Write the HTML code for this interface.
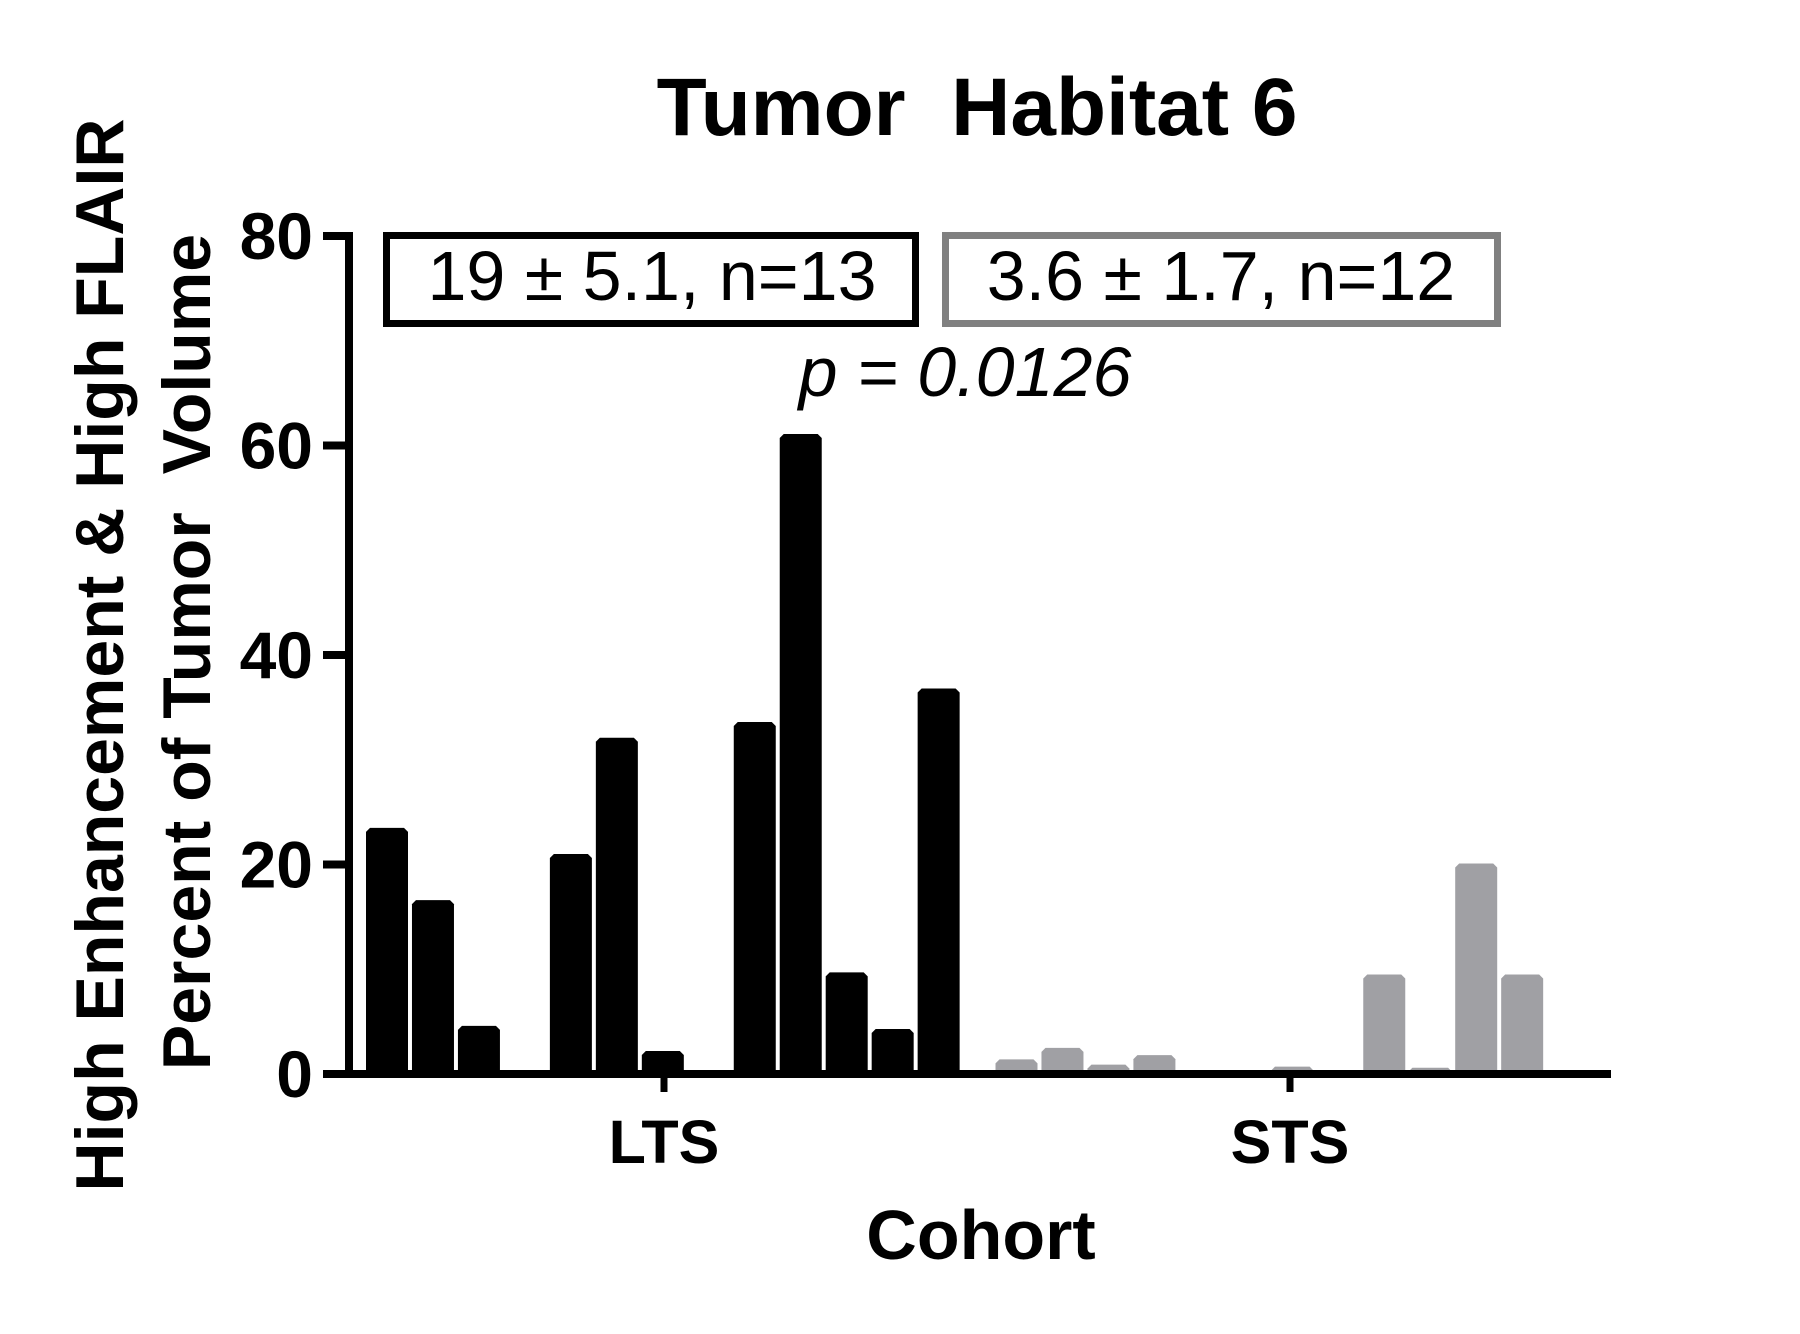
<!DOCTYPE html>
<html><head><meta charset="utf-8"><style>
html,body{margin:0;padding:0;background:#fff;}
svg{display:block;}
text{font-family:"Liberation Sans",Arial,sans-serif;}
</style></head><body>
<svg id="chart" width="1800" height="1334" viewBox="0 0 1800 1334" xmlns="http://www.w3.org/2000/svg">
<text x="977" y="135" font-size="82" font-weight="bold" text-anchor="middle" xml:space="preserve">Tumor  Habitat 6</text>
<text transform="translate(123,655) rotate(-90)" font-size="68" font-weight="bold" text-anchor="middle">High Enhancement &amp; High FLAIR</text>
<text transform="translate(210,652) rotate(-90)" font-size="68" font-weight="bold" text-anchor="middle" xml:space="preserve">Percent of Tumor  Volume</text>
<text x="981" y="1259" font-size="70" font-weight="bold" text-anchor="middle">Cohort</text>
<rect x="386.5" y="235.5" width="529" height="88" fill="none" stroke="#000" stroke-width="7"/>
<text x="652" y="300" font-size="70" text-anchor="middle">19 ± 5.1, n=13</text>
<rect x="945.5" y="235.5" width="552" height="88" fill="none" stroke="#808080" stroke-width="7"/>
<text x="1221" y="300" font-size="70" text-anchor="middle">3.6 ± 1.7, n=12</text>
<text x="965" y="396" font-size="70" font-style="italic" text-anchor="middle">p = 0.0126</text>
<g id="bars"></g>
<g id="axes"></g>
</svg>
<script>
const categories = ["LTS", "STS"];
const ltsValues = [23.5, 16.6, 4.6, 0, 21.0, 32.1, 2.2, 0, 33.6, 61.1, 9.7, 4.3, 36.8];
const stsValues = [1.4, 2.5, 0.9, 1.8, 0, 0, 0.7, 0, 9.5, 0.6, 20.1, 9.5];
const yTicks = [0, 20, 40, 60, 80];

const NS = "http://www.w3.org/2000/svg";
const svg = document.getElementById("chart");
const barsG = document.getElementById("bars");
const axesG = document.getElementById("axes");
const y0 = 1074, y80 = 236, yMax = 80;
function yScale(v){ return y0 - (v / yMax) * (y0 - y80); }
const groupStart = [366, 995.5];
const step = 45.97, barW = 42;
function xBar(g, i){ return groupStart[g] + i * step; }
const catCenter = [664, 1290];
function mk(tag, attrs){ const e = document.createElementNS(NS, tag); for (const k in attrs) e.setAttribute(k, attrs[k]); return e; }

const groups = [ltsValues, stsValues];
const colors = ["#000000", "#a0a0a4"];
groups.forEach((vals, g) => {
  vals.forEach((v, i) => {
    if (v <= 0) return;
    const x = xBar(g, i), yt = yScale(v), c = Math.min(4, (y0 - yt) / 2);
    const p = mk("path", {d: `M${x},${y0} L${x},${yt + c} L${x + c},${yt} L${x + barW - c},${yt} L${x + barW},${yt + c} L${x + barW},${y0} Z`, fill: colors[g]});
    
    
    barsG.appendChild(p);
  });
});

const yAxis = mk("line", {x1: 349, y1: 232, x2: 349, y2: 1078, stroke: "#000", "stroke-width": 8});


axesG.appendChild(yAxis);
const xAxis = mk("line", {x1: 345, y1: y0, x2: 1611, y2: y0, stroke: "#000", "stroke-width": 8});


axesG.appendChild(xAxis);

yTicks.forEach(t => {
  const y = yScale(t);
  const tk = mk("line", {x1: 323, y1: y, x2: 349, y2: y, stroke: "#000", "stroke-width": 8});
  
  
  axesG.appendChild(tk);
  const lb = mk("text", {x: 313, y: y + 23, "font-size": 66, "font-weight": "bold", "text-anchor": "end"});
  lb.textContent = t;
  
  
  axesG.appendChild(lb);
});

categories.forEach((c, g) => {
  const x = catCenter[g];
  const tk = mk("line", {x1: x, y1: y0, x2: x, y2: 1092, stroke: "#000", "stroke-width": 7});
  
  
  axesG.appendChild(tk);
  const lb = mk("text", {x: x, y: 1163, "font-size": 61, "font-weight": "bold", "text-anchor": "middle"});
  lb.textContent = c;
  
  
  axesG.appendChild(lb);
});
</script>
</body></html>
